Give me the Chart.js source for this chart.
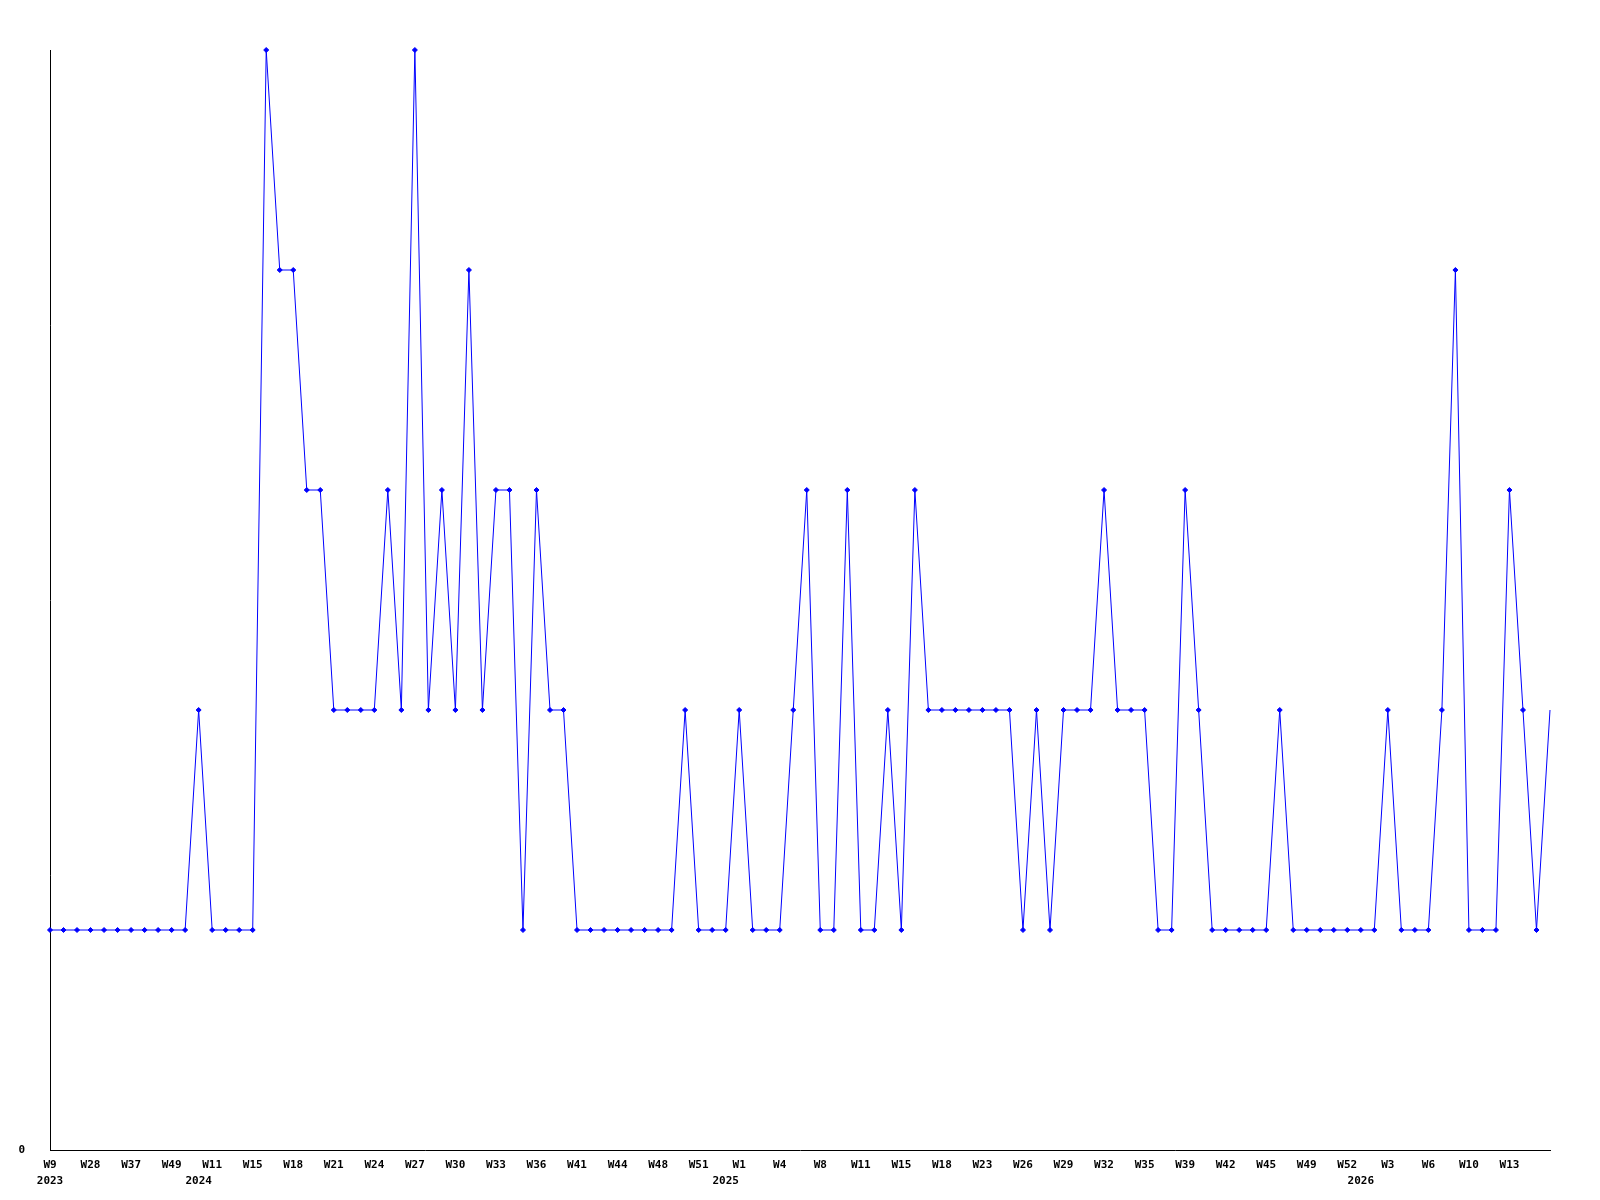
<!DOCTYPE html>
<html>
<head>
<meta charset="utf-8">
<title>Semanas</title>
<script src="https://cdn.jsdelivr.net/npm/chart.js@4"></script>
<style>
  html, body { margin: 0; padding: 0; background: #fff; }
  canvas { display: block; }
</style>
</head>
<body>
<canvas id="myChart" width="1600" height="1200"></canvas>
<script>
// semanas con datos, por año
const semanas2023 = [9, 15, 22, 28, 31, 34, 37, 41, 45, 49, 51];
const semanas2024 = [8, 11, 13, 14, 15, 16, 17, 18, 19, 20, 21, 22, 23, 24, 25, 26, 27, 28, 29, 30, 31, 32, 33, 34, 35, 36, 38, 39, 41, 42, 43, 44, 46, 47, 48, 49, 50, 51, 52];
const semanas2025 = [0, 1, 2, 3, 4, 6, 7, 8, 9, 10, 11, 13, 14, 15, 16, 17, 18, 20, 22, 23, 24, 25, 26, 27, 28, 29, 30, 31, 32, 33, 34, 35, 37, 38, 39, 40, 41, 42, 43, 44, 45, 46, 48, 49, 50, 51, 52];
const semanas2026 = [1, 2, 3, 4, 5, 6, 8, 9, 10, 11, 12, 13, 14, 15, 16];

// valores por semana
const valores2023 = [1, 1, 1, 1, 1, 1, 1, 1, 1, 1, 1];
const valores2024 = [2, 1, 1, 1, 1, 5, 4, 4, 3, 3, 2, 2, 2, 2, 3, 2, 5, 2, 3, 2, 4, 2, 3, 3, 1, 3, 2, 2, 1, 1, 1, 1, 1, 1, 1, 1, 2, 1, 1];
const valores2025 = [1, 2, 1, 1, 1, 2, 3, 1, 1, 3, 1, 1, 2, 1, 3, 2, 2, 2, 2, 2, 2, 2, 1, 2, 1, 2, 2, 2, 3, 2, 2, 2, 1, 1, 3, 2, 1, 1, 1, 1, 1, 2, 1, 1, 1, 1, 1];
const valores2026 = [1, 1, 2, 1, 1, 1, 2, 4, 1, 1, 1, 3, 2, 1, 2];

const anios = [2023, 2024, 2025, 2026];
const semanasPorAnio = [semanas2023, semanas2024, semanas2025, semanas2026];
const valoresPorAnio = [valores2023, valores2024, valores2025, valores2026];

// cada cuantas semanas se muestra una etiqueta
const pasoEtiquetas = 3;

// armar categorias y datos
const labels = [];
const anioDe = [];
const data = [];
semanasPorAnio.forEach((semanas, k) => {
    semanas.forEach((s, j) => {
        labels.push("W" + s);
        anioDe.push(anios[k]);
        data.push(valoresPorAnio[k][j]);
    });
});

// etiqueta del eje x: semana cada 3 puntos, y el año bajo la primera semana de cada año
function etiquetaX(value, index) {
    const conSemana = index % pasoEtiquetas === 0 && index + pasoEtiquetas <= labels.length;
    const inicioAnio = index === 0 || anioDe[index] !== anioDe[index - 1];
    if (inicioAnio) {
        return [conSemana ? labels[index] : "", String(anioDe[index])];
    }
    return conSemana ? labels[index] : null;
}

const fuente = { family: "'DejaVu Sans Mono', monospace", size: 11, weight: "bold", lineHeight: 1.45 };

const config = {
    type: "line",
    data: {
        labels,
        datasets: [{
            data,
            borderColor: "#0000ff",
            backgroundColor: "#0000ff",
            borderWidth: 1,
            tension: 0,
            pointStyle: "rectRot",
            pointRadius: (ctx) => ctx.dataIndex === data.length - 1 ? 0 : 2.5,
            pointBorderWidth: 1,
            clip: false
        }]
    },
    options: {
        responsive: false,
        animation: false,
        devicePixelRatio: 1,
        layout: { padding: { top: 50, right: 50, left: 0, bottom: 0 } },
        plugins: { legend: { display: false }, tooltip: { enabled: false } },
        scales: {
            x: {
                offset: false,
                grid: { display: false, drawTicks: false },
                border: { display: true, color: "#000", width: 1 },
                ticks: {
                    autoSkip: false,
                    maxRotation: 0,
                    minRotation: 0,
                    padding: 7,
                    color: "#000",
                    font: fuente,
                    callback: etiquetaX
                },
                afterFit: (s) => { s.height = 50; }
            },
            y: {
                min: 0,
                max: 5,
                grid: { display: false, drawTicks: false },
                border: { display: true, color: "#000", width: 1 },
                ticks: { padding: 25, color: "#000", font: fuente },
                afterBuildTicks: (s) => { s.ticks = s.ticks.filter(t => t.value === 0); },
                afterFit: (s) => { s.width = 50; }
            }
        }
    }
};

const myChart = document.getElementById("myChart");
new Chart(myChart, config);
</script>
</body>
</html>
